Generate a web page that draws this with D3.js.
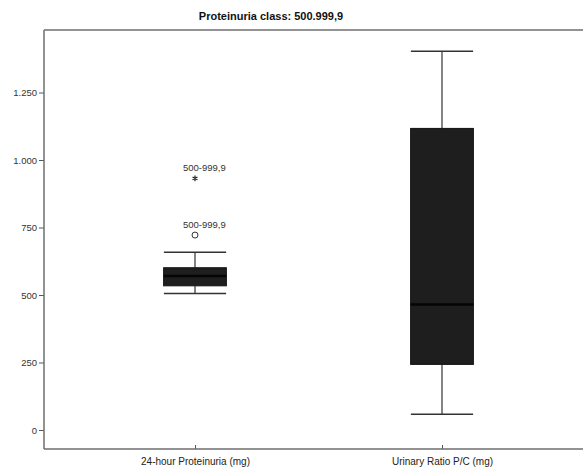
<!DOCTYPE html>
<html>
<head>
<meta charset="utf-8">
<script src="https://cdn.jsdelivr.net/npm/d3@7"></script>
<style>
  html, body { margin: 0; padding: 0; background: #fff; }
  svg { display: block; font-family: "Liberation Sans", Arial, sans-serif; }
</style>
</head>
<body>
<svg id="chart" width="583" height="468"></svg>
<script>
// Box-plot summary per variable (mg)
const categories   = ["24-hour Proteinuria (mg)", "Urinary Ratio P/C (mg)"];
const whiskerLow   = [506, 58];
const quartile1    = [534, 243];
const medians      = [570, 465];
const quartile3    = [601, 1117];
const whiskerHigh  = [658, 1403];
// Outliers: circle = mild, star = extreme
const outlierValue = [722];
const outlierCat   = [0];
const outlierLabel = ["500-999,9"];
const extremeValue = [932];
const extremeCat   = [0];
const extremeLabel = ["500-999,9"];
const yTicks       = [0, 250, 500, 750, 1000, 1250];
const title        = "Proteinuria class: 500.999,9";

const svg = d3.select("#chart");
const plot = { left: 44, top: 30, right: 583, bottom: 449 };

const locale = d3.formatLocale({ decimal: ",", thousands: ".", grouping: [3], currency: ["", ""] });
const fmt = locale.format(",d");

const y = d3.scaleLinear().domain([0, 1250]).range([430, 92.5]);
const x = d3.scalePoint().domain(categories).range([71.5, 565.5]).padding(0.5);
const boxW = x.step() * 0.254;
const capW = x.step() * 0.126;

// Title
svg.append("text")
  .attr("x", 271).attr("y", 20)
  .attr("text-anchor", "middle")
  .attr("font-size", 11).attr("font-weight", "bold")
  .attr("fill", "#111")
  .text(title);

const frameColor = "#6e6e6e";
// Top frame line
svg.append("line")
  .attr("x1", plot.left).attr("x2", plot.right)
  .attr("y1", plot.top).attr("y2", plot.top)
  .attr("stroke", frameColor).attr("stroke-width", 1.5);

// Y axis
const yAxis = svg.append("g")
  .attr("transform", `translate(${plot.left},0)`)
  .call(d3.axisLeft(y).tickValues(yTicks).tickFormat(fmt).tickSize(5).tickPadding(2));
yAxis.select(".domain").remove();
yAxis.selectAll(".tick line").attr("stroke", "#555");
yAxis.selectAll(".tick text").attr("font-size", 9.5).attr("fill", "#333")
  .attr("font-family", "Liberation Sans, Arial, sans-serif");
svg.append("line")
  .attr("x1", plot.left).attr("x2", plot.left)
  .attr("y1", plot.top).attr("y2", plot.bottom)
  .attr("stroke", frameColor).attr("stroke-width", 1.5);

// X axis
const xAxis = svg.append("g")
  .attr("transform", `translate(0,${plot.bottom})`)
  .call(d3.axisBottom(x).tickSize(-4).tickPadding(9));
xAxis.select(".domain").remove();
xAxis.selectAll(".tick line").attr("stroke", "#555");
xAxis.selectAll(".tick text").attr("font-size", 10).attr("fill", "#222")
  .attr("font-family", "Liberation Sans, Arial, sans-serif");
svg.append("line")
  .attr("x1", plot.left).attr("x2", plot.right)
  .attr("y1", plot.bottom).attr("y2", plot.bottom)
  .attr("stroke", frameColor).attr("stroke-width", 1.5);

// Boxes
const boxes = categories.map((c, i) => ({
  c, lo: whiskerLow[i], q1: quartile1[i], med: medians[i], q3: quartile3[i], hi: whiskerHigh[i]
}));
const g = svg.append("g");
boxes.forEach(b => {
  const cx = x(b.c);
  // whisker stems
  g.append("line").attr("x1", cx).attr("x2", cx).attr("y1", y(b.hi)).attr("y2", y(b.q3))
    .attr("stroke", "#333").attr("stroke-width", 1.2);
  g.append("line").attr("x1", cx).attr("x2", cx).attr("y1", y(b.q1)).attr("y2", y(b.lo))
    .attr("stroke", "#333").attr("stroke-width", 1.2);
  // caps
  [b.hi, b.lo].forEach(v => {
    g.append("line").attr("x1", cx - capW).attr("x2", cx + capW).attr("y1", y(v)).attr("y2", y(v))
      .attr("stroke", "#333").attr("stroke-width", 1.5);
  });
  // box
  g.append("rect")
    .attr("x", cx - boxW / 2).attr("width", boxW)
    .attr("y", y(b.q3)).attr("height", y(b.q1) - y(b.q3))
    .attr("fill", "#1e1e1e").attr("stroke", "#111").attr("stroke-width", 1);
  // median
  g.append("line").attr("x1", cx - boxW / 2).attr("x2", cx + boxW / 2)
    .attr("y1", y(b.med)).attr("y2", y(b.med))
    .attr("stroke", "#050505").attr("stroke-width", 2.5);
});

// Mild outliers (circles)
outlierValue.forEach((v, i) => {
  const cx = x(categories[outlierCat[i]]);
  g.append("circle").attr("cx", cx).attr("cy", y(v)).attr("r", 3)
    .attr("fill", "none").attr("stroke", "#333").attr("stroke-width", 1);
  g.append("text").attr("x", cx - 12).attr("y", y(v) - 7)
    .attr("font-size", 9.5).attr("fill", "#333").text(outlierLabel[i]);
});

// Extreme outliers (stars)
extremeValue.forEach((v, i) => {
  const cx = x(categories[extremeCat[i]]);
  g.append("path")
    .attr("transform", `translate(${cx},${y(v)})`)
    .attr("d", d3.symbol().type(d3.symbolAsterisk).size(22)())
    .attr("fill", "none").attr("stroke", "#222").attr("stroke-width", 1.2);
  g.append("text").attr("x", cx - 12).attr("y", y(v) - 7)
    .attr("font-size", 9.5).attr("fill", "#333").text(extremeLabel[i]);
});
</script>
</body>
</html>
